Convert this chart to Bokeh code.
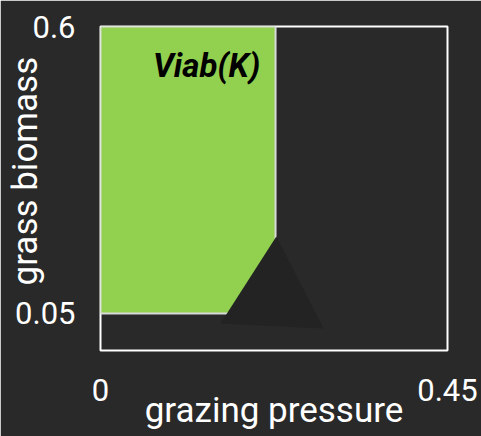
from bokeh.plotting import figure
from bokeh.models import Range1d, FixedTicker, Label
from bokeh.embed import file_html
from bokeh.resources import INLINE

# ---- data ----
x_ticks = [0, 0.45]
y_ticks = [0.05, 0.6]
x_tick_labels = ["0", "0.45"]
y_tick_labels = ["0.05", "0.6"]

viab_left = [0.0]
viab_right = [0.227]
viab_bottom = [0.05]
viab_top = [0.6]

tri_x = [0.228, 0.1556, 0.2892]
tri_y = [0.1975, 0.0307, 0.0212]

x_title = "grazing pressure"
y_title = "grass biomass"
region_name = "Viab(K)"

BG = "#292929"
FONT = "Roboto"

p = figure(width=481, height=436, output_backend="svg", toolbar_location=None,
           x_range=Range1d(0, 0.45), y_range=Range1d(-0.021, 0.6),
           min_border_left=100, min_border_right=34, min_border_top=26,
           min_border_bottom=86)
p.background_fill_color = BG
p.border_fill_color = BG
p.outline_line_color = "white"
p.outline_line_width = 2
p.grid.visible = False

for ax, ticks, labs, standoff in ((p.xaxis[0], x_ticks, x_tick_labels, 22),
                                  (p.yaxis[0], y_ticks, y_tick_labels, 19)):
    ax.ticker = FixedTicker(ticks=ticks)
    ax.major_label_overrides = {t: l for t, l in zip(ticks, labs)}
    ax.major_label_text_font = FONT
    ax.major_label_text_font_size = "31px"
    ax.major_label_text_color = "white"
    ax.major_label_standoff = standoff
    ax.major_tick_line_color = None
    ax.minor_tick_line_color = None
    ax.axis_line_color = None
    ax.axis_label_text_font = FONT
    ax.axis_label_text_font_size = "35px"
    ax.axis_label_text_font_style = "normal"
    ax.axis_label_text_color = "white"

p.xaxis[0].axis_label = x_title
p.xaxis[0].axis_label_standoff = -14
# leading no-break spaces lift the centred title a little, as in the original
p.yaxis[0].axis_label = "\u00a0" * 4 + y_title
p.yaxis[0].axis_label_standoff = -34

p.quad(left=viab_left, right=viab_right, bottom=viab_bottom, top=viab_top,
       fill_color="#92d050", line_color="#d9d9d9", line_width=2)
p.patch(tri_x, tri_y, fill_color="#232323", line_color=None)

p.add_layout(Label(x=0.1375, y=0.525, text=region_name,
                   text_font=FONT, text_font_style="bold italic",
                   text_font_size="33px", text_color="black",
                   text_align="center", text_baseline="alphabetic"))

open("out.html", "w").write(file_html(p, INLINE))
